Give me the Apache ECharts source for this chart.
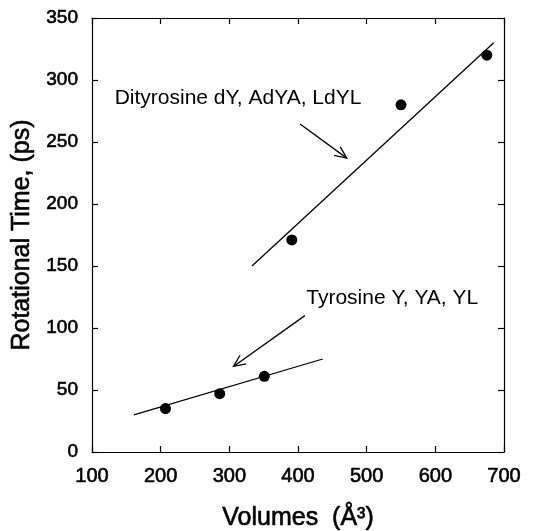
<!DOCTYPE html>
<html>
<head>
<meta charset="utf-8">
<script src="https://cdn.jsdelivr.net/npm/echarts@6/dist/echarts.min.js"></script>
<style>
  html, body { margin: 0; padding: 0; background: #fff; }
  #chart { width: 542px; height: 531px; }
</style>
</head>
<body>
<div id="chart"></div>
<script>
// Measured rotational times (ps) against molecular volume (Å³)
const tyrosinePoints = [[207, 35], [286, 47], [351, 61]];
const dityrosinePoints = [[391, 171], [550, 280], [675, 320]];

// Straight-line fits drawn through each group
const tyrosineFit = [[161, 30], [436, 75]];
const dityrosineFit = [[333, 150], [685, 330]];

// Annotation arrows: [from, to]
const arrows = [
  [[403, 264.5], [471, 237]],
  [[410, 110], [306, 69]]
];

// Annotation labels: [x, y, text]
const labels = [
  [133, 285, 'Dityrosine dY, AdYA, LdYL'],
  [412, 124, 'Tyrosine Y, YA, YL']
];

const xTicks = [100, 200, 300, 400, 500, 600, 700];
const yTicks = [0, 50, 100, 150, 200, 250, 300, 350];

const FONT = 'Liberation Sans, Arial, Helvetica, sans-serif';
// slightly heavier glyphs for the axis text
const heavy = { textBorderColor: '#000', textBorderWidth: 0.6 };
const chart = echarts.init(document.getElementById('chart'), null, { renderer: 'canvas' });

const baseAxis = {
  axisLine: { show: true, onZero: false, lineStyle: { color: '#000', width: 1.2 } },
  axisTick: { show: true, inside: true, length: 6, lineStyle: { color: '#000', width: 1.2 } },
  splitLine: { show: false },
  minorTick: { show: false }
};

chart.setOption({
  animation: false,
  backgroundColor: '#fff',
  grid: { left: 92, right: 38, top: 18, bottom: 79, containLabel: false, outerBoundsMode: 'none' },
  xAxis: [
    Object.assign({}, baseAxis, {
      type: 'value', min: xTicks[0], max: xTicks[xTicks.length - 1], interval: 100,
      position: 'bottom',
      name: 'Volumes  (Å³)', nameLocation: 'middle', nameGap: 54,
      nameTextStyle: Object.assign({ fontFamily: FONT, fontSize: 25, color: '#000' }, heavy),
      axisLabel: Object.assign({ fontFamily: FONT, fontSize: 20, color: '#000', margin: 14 }, heavy)
    }),
    Object.assign({}, baseAxis, {
      type: 'value', min: xTicks[0], max: xTicks[xTicks.length - 1], interval: 100,
      position: 'top', axisLabel: { show: false }
    })
  ],
  yAxis: [
    Object.assign({}, baseAxis, {
      type: 'value', min: yTicks[0], max: yTicks[yTicks.length - 1], interval: 50,
      position: 'left',
      name: 'Rotational Time, (ps)', nameLocation: 'middle', nameGap: 57,
      nameTextStyle: Object.assign({ fontFamily: FONT, fontSize: 25, color: '#000' }, heavy),
      axisLabel: Object.assign({ fontFamily: FONT, fontSize: 19, color: '#000', margin: 14 }, heavy)
    }),
    Object.assign({}, baseAxis, {
      type: 'value', min: yTicks[0], max: yTicks[yTicks.length - 1], interval: 50,
      position: 'right', axisLabel: { show: false }
    })
  ],
  series: [
    {
      type: 'line', data: tyrosineFit, symbol: 'none',
      lineStyle: { color: '#000', width: 1.3 }, silent: true
    },
    {
      type: 'line', data: dityrosineFit, symbol: 'none',
      lineStyle: { color: '#000', width: 1.3 }, silent: true
    },
    {
      type: 'scatter', data: tyrosinePoints.concat(dityrosinePoints),
      symbol: 'circle', symbolSize: 11, itemStyle: { color: '#000', opacity: 1 }
    },
    {
      // open-headed arrows
      type: 'custom', silent: true,
      data: arrows.map(a => [a[0][0], a[0][1], a[1][0], a[1][1]]),
      renderItem: function (params, api) {
        const p0 = api.coord([api.value(0), api.value(1)]);
        const p1 = api.coord([api.value(2), api.value(3)]);
        const ang = Math.atan2(p1[1] - p0[1], p1[0] - p0[0]);
        const len = 13, spread = 0.42;
        const h1 = [p1[0] - len * Math.cos(ang - spread), p1[1] - len * Math.sin(ang - spread)];
        const h2 = [p1[0] - len * Math.cos(ang + spread), p1[1] - len * Math.sin(ang + spread)];
        const style = { stroke: '#000', lineWidth: 1.3, fill: null };
        return {
          type: 'group',
          children: [
            { type: 'line', shape: { x1: p0[0], y1: p0[1], x2: p1[0], y2: p1[1] }, style: style },
            { type: 'polyline', shape: { points: [h1, p1, h2] }, style: style }
          ]
        };
      }
    },
    {
      type: 'custom', silent: true,
      data: labels,
      renderItem: function (params, api) {
        const p = api.coord([api.value(0), api.value(1)]);
        return {
          type: 'text',
          x: p[0], y: p[1],
          style: {
            text: labels[params.dataIndex][2],
            fontFamily: FONT, fontSize: 21, fill: '#000',
            align: 'left', verticalAlign: 'middle'
          }
        };
      }
    }
  ]
});
</script>
</body>
</html>
